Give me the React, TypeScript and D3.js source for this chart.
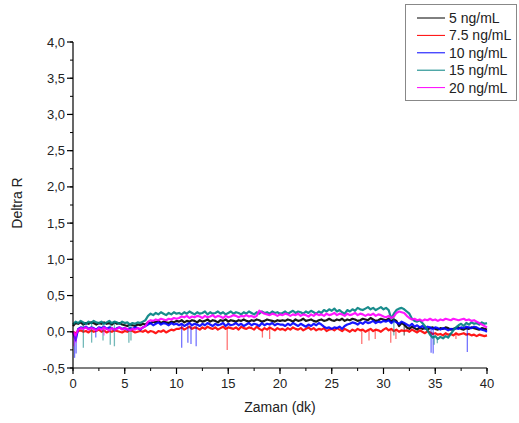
import React from 'react';
import * as d3 from 'd3';

const seriesNames = ['5 ng/mL', '7.5 ng/mL', '10 ng/mL', '15 ng/mL', '20 ng/mL'];
const seriesColors = ['#000000', '#ff0000', '#0000ff', '#008080', '#ff00ff'];
const timeStep = 0.25; // minutes between samples; values below are in hundredths of Delta R

const black5 = [
  8,12,11,13,10,12,11,13,12,10,12,11,13,11,12,10,13,11,12,10,9,8,10,9,8,10,9,11,10,
  13,12,14,13,15,12,14,13,12,14,13,15,
  14,16,13,15,14,16,15,13,16,14,15,17,14,16,15,13,16,15,17,14,16,15,14,16,15,17,15,14,16,15,17,16,14,15,17,16,15,14,16,15,
  16,15,17,16,14,17,15,16,18,15,16,17,15,14,16,17,15,16,18,16,15,17,16,18,15,17,16,18,17,15,16,18,17,16,19,17,15,16,18,17,
  16,18,14,17,15,8,12,10,
  6,4,7,5,3,6,4,5,3,5,6,4,3,5,4,6,5,3,4,5,6,4,3,5,4,6,5,4,3,5,4,3,
];
const red75 = [
  0,-2,1,2,0,1,-1,2,0,1,3,0,2,-1,1,0,2,1,0,-1,1,0,2,1,-1,0,1,0,2,
  -1,1,0,-2,1,0,2,-1,1,3,2,4,
  4,6,3,5,7,4,6,5,3,6,4,7,5,4,6,3,5,7,4,6,5,4,6,3,7,5,4,6,5,3,7,4,2,5,3,6,4,2,5,3,
  4,2,5,3,6,4,3,5,2,4,6,3,5,2,4,3,5,1,3,4,2,5,3,1,4,2,0,3,1,4,2,3,0,2,4,1,3,2,0,3,
  5,2,4,1,3,0,2,1,
  2,0,3,1,-1,2,0,-2,1,-1,-3,-2,-4,-3,-5,-2,-4,-3,-5,-2,-4,-3,-2,-4,-3,-5,-4,-6,-4,-5,-6,-5,
];
const blue10 = [
  0,-12,4,6,5,7,4,6,5,3,6,5,7,4,6,5,3,5,6,4,5,3,5,4,6,5,3,6,8,
  10,12,9,11,13,10,12,11,9,12,10,11,
  9,11,8,10,12,9,11,10,8,11,9,12,10,8,11,9,10,12,8,11,9,10,12,9,11,8,10,12,9,11,10,8,12,9,11,10,12,9,11,10,
  10,8,11,9,12,10,8,11,9,7,10,8,11,9,12,10,7,5,6,4,6,5,7,4,8,10,11,13,12,10,13,11,14,12,13,15,12,14,13,15,
  14,16,12,15,13,11,14,12,
  10,8,11,7,9,6,8,5,7,6,4,6,5,3,5,4,2,4,3,5,4,6,5,7,6,5,7,6,4,3,2,0,
];
const teal15 = [
  10,14,12,15,13,11,14,12,15,13,12,14,11,13,15,12,14,13,11,14,12,13,10,12,11,13,12,14,16,
  22,25,23,26,24,27,25,23,26,24,27,25,
  26,24,27,25,28,26,24,27,25,26,28,24,27,25,26,28,25,27,24,26,28,25,27,26,24,27,25,28,26,24,27,25,28,26,27,25,28,26,27,25,
  26,28,25,27,29,26,28,27,25,28,26,29,27,25,28,26,30,28,31,29,32,28,30,27,25,30,28,31,29,33,31,30,32,34,31,33,30,32,34,31,
  33,30,18,25,30,32,33,31,
  28,25,18,15,14,16,12,8,2,-4,-8,-6,-10,-7,-9,-6,-8,-3,2,6,9,11,8,12,10,13,11,12,10,13,11,12,
];
const magenta20 = [
  0,-5,3,5,4,6,3,5,4,2,5,3,6,4,2,5,3,4,6,3,5,4,2,4,3,5,4,6,8,
  14,16,15,17,16,18,17,16,18,17,19,18,
  19,21,20,22,19,21,20,22,21,19,22,20,21,23,20,22,21,19,22,20,21,23,22,20,22,21,23,21,22,20,22,29,27,25,24,23,25,24,22,24,
  23,25,24,22,24,23,25,22,24,23,21,24,22,25,23,24,22,25,23,24,26,23,25,24,22,25,23,24,26,23,25,24,22,24,23,25,22,24,23,21,
  20,22,19,21,26,28,27,26,
  22,19,17,18,16,17,15,17,16,18,16,17,15,17,16,18,17,16,18,17,16,17,18,16,17,15,16,14,12,10,8,6,
];

// single-sample dips: [minute, hundredths]
const spikesBlack: [number, number][] = [[32.0, -5]];
const spikesRed: [number, number][] = [[14.9, -25], [18.3, -8], [19.0, -10], [27.9, -17], [28.6, -12], [29.2, -10], [30.7, -15], [31.2, -10], [37.0, -10]];
const spikesBlue: [number, number][] = [[0.15, -36], [0.3, -30], [2.2, -8], [10.5, -22], [11.1, -15], [11.4, -17], [11.9, -20], [34.6, -29], [34.8, -30], [38.1, -28]];
const spikesTeal: [number, number][] = [[1.0, -22], [1.8, -15], [2.9, -12], [3.6, -18], [4.0, -20], [5.4, -15], [5.6, -12], [31.0, -5], [34.9, -18], [35.2, -16]];
const spikesMagenta: [number, number][] = [[0.1, -20], [0.3, -15], [3.0, -5]];

const seriesValues = [black5, red75, blue10, teal15, magenta20];
const seriesSpikes = [spikesBlack, spikesRed, spikesBlue, spikesTeal, spikesMagenta];

const xTicks = [0, 5, 10, 15, 20, 25, 30, 35, 40];
const yTicks = [-0.5, 0, 0.5, 1, 1.5, 2, 2.5, 3, 3.5, 4];

const W = 519, H = 423;
const FONT = '"Liberation Sans", Arial, sans-serif';

export default function App() {
  const x = d3.scaleLinear().domain([0, 40]).range([73, 487]);
  const y = d3.scaleLinear().domain([-0.5, 4]).range([368, 42]);
  const line = d3.line<[number, number]>().x(d => x(d[0])).y(d => y(d[1]));

  const series = seriesValues.map((vals) => vals.map((v, i) => [i * timeStep, v / 100] as [number, number]));
  const spikes = seriesSpikes.map((sp, k) => sp.map(([t, v]) => {
    const vals = seriesValues[k];
    const i = Math.min(vals.length - 1, Math.round(t / timeStep));
    return { t, base: vals[i] / 100, v: v / 100 };
  }));

  const xMinor = d3.range(0, 40.01, 2.5);
  const yMinor = d3.range(-0.5, 4.01, 0.25);
  const fmt = (v: number) => v.toFixed(1).replace('.', ',');

  return (
    <svg width={W} height={H} style={{ position: 'absolute', left: 0, top: 0, background: '#fff' }} fontFamily={FONT}>
      <rect width={W} height={H} fill="#fff" />
      {series.map((pts, k) => (
        <g key={k}>
          {spikes[k].map((s, j) => (
            <line key={j} x1={x(s.t)} x2={x(s.t)} y1={y(s.base)} y2={y(s.v)} stroke={seriesColors[k]} strokeWidth={1.3} strokeOpacity={0.55} />
          ))}
          <path d={line(pts) || ''} fill="none" stroke={seriesColors[k]} strokeWidth={2.2} strokeOpacity={0.9} strokeLinejoin="round" />
        </g>
      ))}
      {/* y axis */}
      <line x1={73} x2={73} y1={y(4)} y2={y(-0.5)} stroke="#000" strokeWidth={1.2} />
      {yMinor.map((v, i) => (
        <line key={'ym' + i} x1={73} x2={70} y1={y(v)} y2={y(v)} stroke="#000" strokeWidth={1} />
      ))}
      {yTicks.map((v, i) => (
        <g key={'yt' + i}>
          <line x1={73} x2={67} y1={y(v)} y2={y(v)} stroke="#000" strokeWidth={1.2} />
          <text x={65} y={y(v)} dy="0.35em" textAnchor="end" fontSize={13} fill="#222">{fmt(v)}</text>
        </g>
      ))}
      {/* x axis */}
      <line x1={73} x2={487} y1={368} y2={368} stroke="#000" strokeWidth={1.2} />
      {xMinor.map((v, i) => (
        <line key={'xm' + i} x1={x(v)} x2={x(v)} y1={368} y2={371} stroke="#000" strokeWidth={1} />
      ))}
      {xTicks.map((v, i) => (
        <g key={'xt' + i}>
          <line x1={x(v)} x2={x(v)} y1={368} y2={374} stroke="#000" strokeWidth={1.2} />
          <text x={x(v)} y={388} textAnchor="middle" fontSize={13} fill="#222">{v}</text>
        </g>
      ))}
      <text x={280} y={412} textAnchor="middle" fontSize={14} fill="#222">Zaman (dk)</text>
      <text transform={`translate(22,203) rotate(-90)`} textAnchor="middle" fontSize={14} fill="#222">Deltra R</text>
      {/* legend */}
      <rect x={405.5} y={4.5} width={111} height={96} fill="#fff" stroke="#888" strokeWidth={1} />
      {seriesNames.map((n, k) => (
        <g key={'lg' + k}>
          <line x1={417} x2={445} y1={18 + k * 17.4} y2={18 + k * 17.4} stroke={seriesColors[k]} strokeWidth={1} />
          <text x={449} y={18 + k * 17.4} dy="0.35em" fontSize={14} fill="#222">{n}</text>
        </g>
      ))}
    </svg>
  );
}
